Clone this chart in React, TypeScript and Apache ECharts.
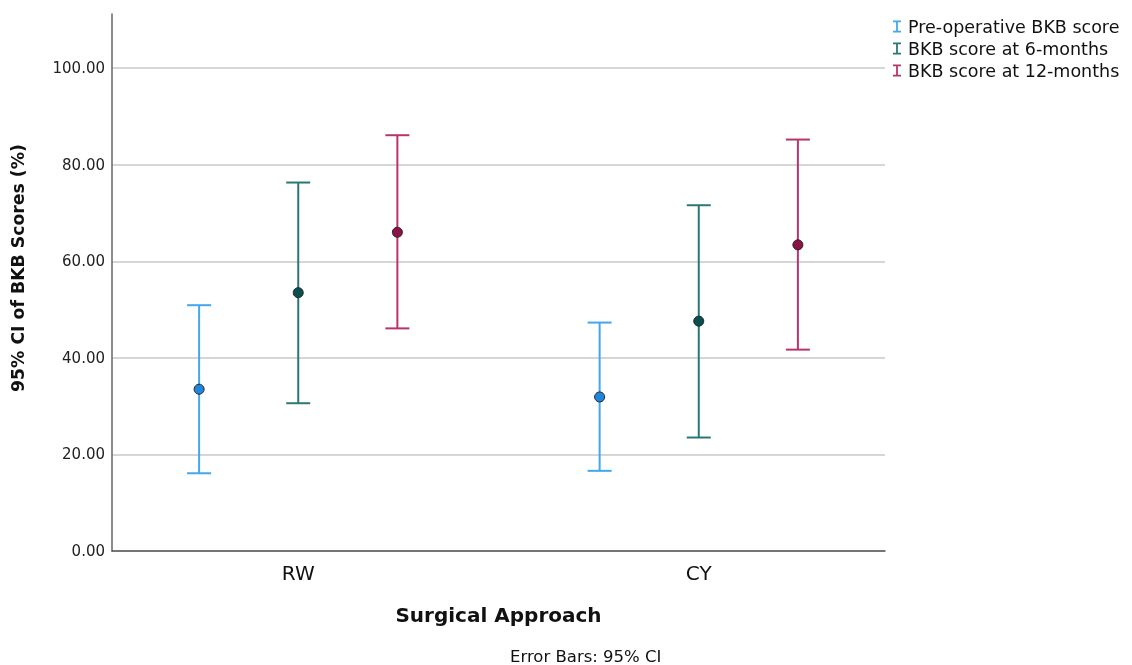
import React, { useEffect, useRef } from "react";
import * as echarts from "echarts";

const categories = ["RW", "CY"];
const seriesNames = ["Pre-operative BKB score", "BKB score at 6-months", "BKB score at 12-months"];
const preMean = [33.5, 31.9];
const preLower = [16.1, 16.6];
const preUpper = [50.9, 47.3];
const m6Mean = [53.5, 47.6];
const m6Lower = [30.6, 23.5];
const m6Upper = [76.3, 71.6];
const m12Mean = [66.0, 63.4];
const m12Lower = [46.1, 41.7];
const m12Upper = [86.1, 85.2];
const yTicks = [0, 20, 40, 60, 80, 100];

const lineColors = ["#44a7ee", "#2a7874", "#b8346c"];
const markerColors = ["#1f86e0", "#0a4f4f", "#8c1145"];
const offsets = [-0.2475, 0, 0.2475];
const FONT = "DejaVu Sans";

export default function App() {
  const ref = useRef<HTMLDivElement>(null);
  useEffect(() => {
    if (!ref.current) return;
    const chart = echarts.init(ref.current, null, { renderer: "svg" });
    const groups = [
      [preMean, preLower, preUpper],
      [m6Mean, m6Lower, m6Upper],
      [m12Mean, m12Lower, m12Upper],
    ];
    const series: any[] = groups.map((g, si) => ({
      type: "custom",
      name: seriesNames[si],
      itemStyle: { color: lineColors[si] },
      data: categories.map((_, ci) => [ci + 1 + offsets[si], g[0][ci], g[1][ci], g[2][ci]]),
      renderItem: (params: any, api: any) => {
        const x = api.value(0);
        const m = api.coord([x, api.value(1)]);
        const lo = api.coord([x, api.value(2)]);
        const hi = api.coord([x, api.value(3)]);
        const hw = 12;
        const ls = { stroke: lineColors[si], lineWidth: 2 };
        return {
          type: "group",
          children: [
            { type: "line", shape: { x1: m[0], y1: lo[1], x2: m[0], y2: hi[1] }, style: ls },
            { type: "line", shape: { x1: m[0] - hw, y1: lo[1], x2: m[0] + hw, y2: lo[1] }, style: ls },
            { type: "line", shape: { x1: m[0] - hw, y1: hi[1], x2: m[0] + hw, y2: hi[1] }, style: ls },
            {
              type: "circle",
              shape: { cx: m[0], cy: m[1], r: 5 },
              style: { fill: markerColors[si], stroke: "#222", lineWidth: 1 },
            },
          ],
        };
      },
    }));

    chart.setOption({
      animation: false,
      grid: { left: 112, top: 14, right: 247, bottom: 114 },
      legend: {
        orient: "vertical",
        left: 893,
        top: 17.5,
        padding: 0,
        itemGap: 4,
        itemWidth: 8,
        itemHeight: 12,
        data: seriesNames.map((n) => ({
          name: n,
          icon: "path://M0,0H8V1.8H4.9V10.2H8V12H0V10.2H3.1V1.8H0Z",
        })),
        textStyle: { fontFamily: FONT, fontSize: 17.5, color: "#111", padding: [0, 0, 0, 2] },
        selectedMode: false,
      },
      xAxis: {
        type: "value",
        min: 0.535,
        max: 2.465,
        axisLine: { show: true, lineStyle: { color: "#555", width: 1.5 } },
        axisTick: { show: false },
        splitLine: { show: false },
        axisLabel: {
          customValues: [1, 2],
          formatter: (v: number) => categories[Math.round(v) - 1] ?? "",
          fontFamily: FONT,
          fontSize: 20,
          color: "#111",
          margin: 12,
        },
        name: "Surgical Approach",
        nameLocation: "middle",
        nameGap: 54,
        nameTextStyle: { fontFamily: FONT, fontSize: 20, fontWeight: "bold", color: "#111" },
      },
      yAxis: {
        type: "value",
        min: 0,
        max: 111.2,
        interval: 20,
        axisLine: { show: true, lineStyle: { color: "#666", width: 1.5 } },
        axisTick: { show: false },
        splitLine: { show: true, showMaxLine: false, lineStyle: { color: "#c8c8c8", width: 1.5 } },
        axisLabel: {
          customValues: yTicks,
          formatter: (v: number) => v.toFixed(2),
          fontFamily: FONT,
          fontSize: 15,
          color: "#222",
          margin: 7,
        },
      },
      graphic: [
        {
          type: "text",
          x: 18,
          y: 268,
          rotation: Math.PI / 2,
          style: {
            text: "95% CI of BKB Scores (%)",
            fontFamily: FONT,
            fontSize: 17.3,
            fontWeight: "bold",
            fill: "#111",
            align: "center",
            verticalAlign: "middle",
          },
        },
        {
          type: "text",
          left: 510,
          top: 648,
          style: { text: "Error Bars: 95% CI", fontFamily: FONT, fontSize: 16.5, fill: "#111" },
        },
      ],
      series,
    });
    return () => chart.dispose();
  }, []);
  return <div ref={ref} style={{ position: "fixed", left: 0, top: 0, width: 1132, height: 665 }} />;
}
